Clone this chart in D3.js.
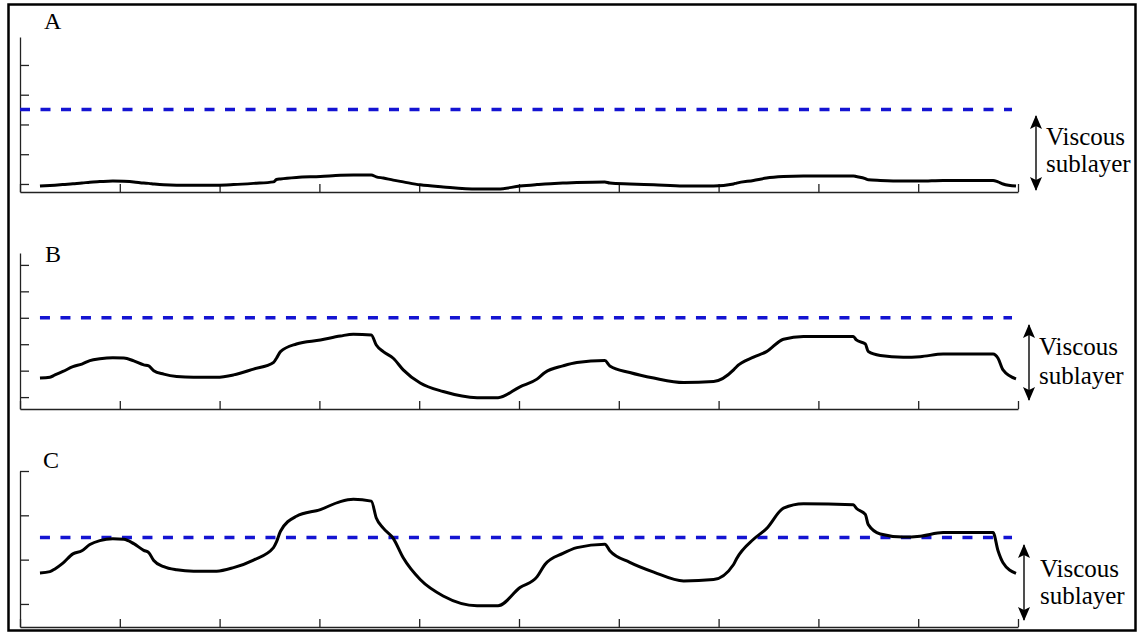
<!DOCTYPE html>
<html>
<head>
<meta charset="utf-8">
<script src="https://cdn.jsdelivr.net/npm/d3@7"></script>
<style>
  body { margin: 0; background: #fff; }
  svg { display: block; }
</style>
</head>
<body>
<div id="chart"></div>
<script>
// x positions shared by the three traces (axis units 0..10)
var xs = [0.20, 0.30, 0.35, 0.43, 0.53, 0.62, 0.70, 0.80, 0.93, 1.04,
          1.14, 1.24, 1.29, 1.34, 1.44, 1.57, 1.74, 1.97, 2.14, 2.34,
          2.54, 2.57, 2.61, 2.77, 3.01, 3.21, 3.34, 3.52, 3.57, 3.64,
          3.74, 3.84, 4.01, 4.24, 4.58, 4.79, 5.01, 5.18, 5.26, 5.44,
          5.58, 5.86, 5.91, 6.11, 6.35, 6.65, 6.95, 7.15, 7.18, 7.35,
          7.48, 7.65, 7.85, 8.35, 8.38, 8.47, 8.50, 8.62, 8.85, 9.02,
          9.25, 9.75, 9.80, 9.85, 9.98];

var seriesA = [-0.07, -0.05, -0.04, -0.02, 0.01, 0.03, 0.06, 0.08, 0.10, 0.09,
               0.07, 0.03, 0.02, 0.00, -0.03, -0.04, -0.04, -0.04, -0.02, 0.02,
               0.07, 0.15, 0.17, 0.22, 0.25, 0.29, 0.30, 0.30, 0.24, 0.20,
               0.13, 0.07, -0.03, -0.10, -0.17, -0.17, -0.07, -0.02, 0.00, 0.03,
               0.05, 0.07, 0.03, 0.00, -0.03, -0.07, -0.07, 0.00, 0.03, 0.12,
               0.20, 0.25, 0.27, 0.27, 0.25, 0.18, 0.14, 0.12, 0.10, 0.10,
               0.12, 0.12, 0.07, 0.00, -0.07];

var seriesB = [0.72, 0.75, 0.84, 0.97, 1.15, 1.25, 1.38, 1.45, 1.49, 1.48,
               1.37, 1.22, 1.18, 1.00, 0.87, 0.78, 0.75, 0.75, 0.84, 1.06,
               1.31, 1.47, 1.72, 2.01, 2.16, 2.31, 2.38, 2.35, 1.97, 1.72,
               1.47, 1.03, 0.53, 0.21, -0.02, -0.02, 0.39, 0.68, 0.93, 1.18,
               1.31, 1.38, 1.18, 0.93, 0.72, 0.55, 0.59, 1.03, 1.15, 1.51,
               1.72, 2.19, 2.29, 2.29, 2.16, 2.01, 1.72, 1.57, 1.51, 1.53,
               1.63, 1.63, 1.47, 1.03, 0.69];

var seriesC = [0.70, 0.73, 0.79, 0.92, 1.13, 1.20, 1.34, 1.43, 1.47, 1.46,
               1.36, 1.21, 1.16, 0.98, 0.84, 0.77, 0.74, 0.74, 0.82, 0.99,
               1.27, 1.40, 1.64, 1.98, 2.13, 2.31, 2.36, 2.32, 1.94, 1.71,
               1.48, 1.04, 0.55, 0.18, -0.04, -0.04, 0.37, 0.61, 0.89, 1.14,
               1.27, 1.35, 1.20, 0.94, 0.72, 0.52, 0.55, 0.89, 1.02, 1.46,
               1.70, 2.16, 2.26, 2.24, 2.16, 2.02, 1.79, 1.58, 1.51, 1.53,
               1.61, 1.61, 1.20, 0.93, 0.69];

var panelLabels = ["A", "B", "C"];
var xTickValues = [0, 1, 2, 3, 4, 5, 6, 7, 8, 9, 10];
var yTickValues = [[0, 1, 2, 3, 4], [0, 1, 2, 3, 4, 5], [0, 1, 2, 3]];
var yDomains = [[-0.27, 4.94], [-0.45, 5.45], [-0.52, 3]];
var thresholds = [2.5, 3.0, 1.5];       // dashed line level
var thresholdStart = [0, 0.2, 0.2];
var thresholdEnd = 9.94;
var annotation = ["Viscous", "sublayer"];

var w = 1138, h = 633;

// pixel layout of each panel
var layout = [
  {top: 37,  bottom: 192, label: [44, 29],  arrow: [1036, 116, 190], text: [1046, 145, 172]},
  {top: 253, bottom: 409, label: [45, 262], arrow: [1029, 325, 400], text: [1039, 355, 384]},
  {top: 471, bottom: 627, label: [43, 468], arrow: [1024, 545, 620], text: [1040, 577, 604]}
];
var allSeries = [seriesA, seriesB, seriesC];

var svg = d3.select("#chart")
            .append("svg")
            .attr("width", w)
            .attr("height", h);

var defs = svg.append("defs");
defs.append("marker")
    .attr("id", "head")
    .attr("viewBox", "0 0 14 12")
    .attr("refX", 13)
    .attr("refY", 6)
    .attr("markerUnits", "userSpaceOnUse")
    .attr("markerWidth", 14)
    .attr("markerHeight", 12)
    .attr("orient", "auto-start-reverse")
    .append("path")
    .attr("d", "M0,0 L14,6 L0,12 L3,6 Z")
    .attr("fill", "#000");

// outer frame
svg.append("rect")
    .attr("x", 8.5)
    .attr("y", 4.5)
    .attr("width", 1127)
    .attr("height", 626)
    .attr("fill", "none")
    .attr("stroke", "#000")
    .attr("stroke-width", 2.5);

var x = d3.scaleLinear()
          .domain([0, 10])
          .range([20, 1018]);

layout.forEach(function(p, i){
    var y = d3.scaleLinear()
              .domain(yDomains[i])
              .range([p.bottom, p.top]);

    var g = svg.append("g");

    // y axis, ticks pointing inward
    var yAxis = d3.axisLeft(y)
                  .tickValues(yTickValues[i])
                  .tickSize(-9)
                  .tickSizeOuter(0)
                  .tickFormat("");
    g.append("g")
        .attr("transform", "translate(" + x(0) + ",0)")
        .call(yAxis);

    // x axis
    var xAxis = d3.axisBottom(x)
                  .tickValues(xTickValues)
                  .tickSize(-8)
                  .tickSizeOuter(0)
                  .tickFormat("");
    g.append("g")
        .attr("transform", "translate(0," + p.bottom + ")")
        .call(xAxis);

    g.selectAll(".domain, .tick line")
        .attr("stroke", "#222")
        .attr("stroke-width", 1.3);

    // dashed threshold
    g.append("line")
        .attr("x1", x(thresholdStart[i]))
        .attr("x2", x(thresholdEnd))
        .attr("y1", y(thresholds[i]))
        .attr("y2", y(thresholds[i]))
        .attr("stroke", "#1414d2")
        .attr("stroke-width", 3.5)
        .attr("stroke-dasharray", "10,10.5");

    // trace
    var line = d3.line()
                 .x(function(d){ return x(d[0]); })
                 .y(function(d){ return y(d[1]); })
                 .curve(d3.curveMonotoneX);
    g.append("path")
        .datum(d3.zip(xs, allSeries[i]))
        .attr("d", line)
        .attr("fill", "none")
        .attr("stroke", "#000")
        .attr("stroke-width", 3)
        .attr("stroke-linejoin", "round");

    // panel letter
    g.append("text")
        .attr("x", p.label[0])
        .attr("y", p.label[1])
        .attr("font-family", "Liberation Serif, Times New Roman, serif")
        .attr("font-size", 24)
        .text(panelLabels[i]);

    // double arrow
    g.append("line")
        .attr("x1", p.arrow[0])
        .attr("x2", p.arrow[0])
        .attr("y1", p.arrow[1])
        .attr("y2", p.arrow[2])
        .attr("stroke", "#222")
        .attr("stroke-width", 1.6)
        .attr("marker-start", "url(#head)")
        .attr("marker-end", "url(#head)");

    g.selectAll(".note")
        .data(annotation)
        .enter()
        .append("text")
        .attr("class", "note")
        .attr("x", p.text[0])
        .attr("y", function(d, k){ return p.text[k + 1]; })
        .attr("font-family", "Liberation Serif, Times New Roman, serif")
        .attr("font-size", 25)
        .text(function(d){ return d; });
});
</script>
</body>
</html>
